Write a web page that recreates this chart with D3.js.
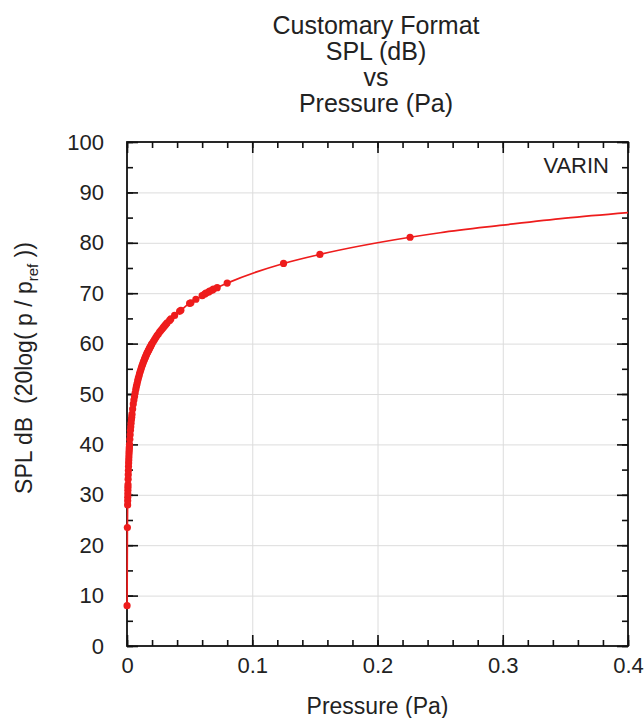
<html>
<head>
<script src="https://d3js.org/d3.v7.min.js"></script>
<style>
body { margin: 0; background: #fff; }
text { font-family: "Liberation Sans", Arial, sans-serif; fill: #222; }
.grid line { stroke: #dcdcdc; stroke-width: 1; }
.grid path { display: none; }
.tk path { display: none; }
.tk line { stroke: #111; stroke-width: 1.6; }
.lbl path, .lbl line { display: none; }
</style>
</head>
<body>
<script>
// measured points: pressure (Pa) and SPL (dB)
var pressure = [0.00005, 0.0003, 0.0005, 0.00055, 0.0006, 0.00065, 0.0007, 0.00075, 0.0008, 0.0009,
  0.001, 0.0011, 0.0012, 0.0013, 0.0014, 0.0015, 0.0016, 0.0017, 0.0018, 0.0019,
  0.002, 0.00225, 0.0025, 0.00275, 0.003, 0.00325, 0.0035, 0.00375, 0.004, 0.0045,
  0.005, 0.0055, 0.006, 0.0065, 0.007, 0.0075, 0.008, 0.0085, 0.009, 0.0095,
  0.010, 0.0105, 0.011, 0.0115, 0.012, 0.0125, 0.013, 0.0135, 0.014, 0.0145,
  0.015, 0.0155, 0.016, 0.0165, 0.017, 0.0175, 0.018, 0.0185, 0.019, 0.0195,
  0.020, 0.021, 0.022, 0.023, 0.024, 0.025, 0.026, 0.027, 0.028, 0.029,
  0.030, 0.031, 0.032, 0.034, 0.035, 0.038, 0.042, 0.043, 0.050, 0.051,
  0.055, 0.060, 0.062, 0.063, 0.065, 0.066, 0.068, 0.069, 0.072, 0.080,
  0.125, 0.154, 0.226];
var spl = [8, 23.5, 28, 28.8, 29.5, 30.2, 30.9, 31.5, 32, 33.1,
  34, 34.8, 35.6, 36.3, 36.9, 37.5, 38.1, 38.6, 39.1, 39.5,
  40, 41, 41.9, 42.8, 43.5, 44.2, 44.9, 45.4, 46, 47,
  48, 48.8, 49.5, 50.2, 50.9, 51.5, 52, 52.6, 53.1, 53.5,
  54, 54.4, 54.8, 55.2, 55.6, 55.9, 56.3, 56.6, 56.9, 57.2,
  57.5, 57.8, 58.1, 58.3, 58.6, 58.8, 59.1, 59.3, 59.5, 59.8,
  60, 60.4, 60.8, 61.2, 61.6, 61.9, 62.3, 62.6, 62.9, 63.2,
  63.5, 63.8, 64.1, 64.6, 64.9, 65.6, 66.4, 66.6, 68, 68.1,
  68.8, 69.5, 69.8, 70, 70.2, 70.4, 70.6, 70.8, 71.1, 72,
  75.9, 77.7, 81.1];

// the red curve keeps going past the last point
var curveP = [0.25, 0.3, 0.35, 0.4];
var curveS = [82, 83.5, 84.9, 86];

var xTicks = [0, 0.1, 0.2, 0.3, 0.4];
var xTickLabels = ["0", "0.1", "0.2", "0.3", "0.4"];
var yTicks = [0, 10, 20, 30, 40, 50, 60, 70, 80, 90, 100];
var yTickLabels = ["0", "10", "20", "30", "40", "50", "60", "70", "80", "90", "100"];
var xMinor = d3.range(0, 0.4001, 0.02);
var yMinor = d3.range(0, 100.1, 5);

var titleLines = ["Customary Format", "SPL (dB)", "vs", "Pressure (Pa)"];

var w = 644, h = 718;
var mLeft = 127, mRight = 628, mTop = 142, mBottom = 646;
var iw = mRight - mLeft, ih = mBottom - mTop;

var svg = d3.select("body").append("svg").attr("width", w).attr("height", h);

var x = d3.scaleLinear().domain([0, 0.4]).range([mLeft, mRight]);
var y = d3.scaleLinear().domain([0, 100]).range([mBottom, mTop]);

// grid
svg.append("g").attr("class", "grid")
  .attr("transform", "translate(0," + mBottom + ")")
  .call(d3.axisBottom(x).tickValues(xTicks.slice(1, -1)).tickSize(-ih).tickFormat(""));
svg.append("g").attr("class", "grid")
  .attr("transform", "translate(" + mLeft + ",0)")
  .call(d3.axisLeft(y).tickValues(yTicks.slice(1, -1)).tickSize(-iw).tickFormat(""));

// inward ticks on all four sides
function ticks(axisFn, scale, vals, len, tr) {
  svg.append("g").attr("class", "tk").attr("transform", tr)
    .call(axisFn(scale).tickValues(vals).tickSizeInner(len).tickSizeOuter(0).tickFormat(""));
}
ticks(d3.axisBottom, x, xMinor, -6, "translate(0," + mBottom + ")");
ticks(d3.axisBottom, x, xTicks, -11, "translate(0," + mBottom + ")");
ticks(d3.axisTop, x, xMinor, -6, "translate(0," + mTop + ")");
ticks(d3.axisTop, x, xTicks, -11, "translate(0," + mTop + ")");
ticks(d3.axisLeft, y, yMinor, -6, "translate(" + mLeft + ",0)");
ticks(d3.axisLeft, y, yTicks, -11, "translate(" + mLeft + ",0)");
ticks(d3.axisRight, y, yMinor, -6, "translate(" + mRight + ",0)");
ticks(d3.axisRight, y, yTicks, -11, "translate(" + mRight + ",0)");

// frame
svg.append("rect")
  .attr("x", mLeft).attr("y", mTop).attr("width", iw).attr("height", ih)
  .attr("fill", "none").attr("stroke", "#111").attr("stroke-width", 1.8);

// tick labels
svg.append("g").attr("class", "lbl")
  .attr("transform", "translate(0," + mBottom + ")")
  .call(d3.axisBottom(x).tickValues(xTicks).tickSize(0).tickPadding(11)
    .tickFormat(function(d, i) { return xTickLabels[i]; }))
  .selectAll("text").style("font-size", "22px").attr("fill", "#333");
svg.append("g").attr("class", "lbl")
  .attr("transform", "translate(" + mLeft + ",0)")
  .call(d3.axisLeft(y).tickValues(yTicks).tickSize(0).tickPadding(23)
    .tickFormat(function(d, i) { return yTickLabels[i]; }))
  .selectAll("text").style("font-size", "22px").attr("fill", "#333");
svg.selectAll(".lbl").attr("font-family", null).attr("font-size", null);

// data
var pts = pressure.map(function(p, i) { return [p, spl[i]]; });
var linePts = pts.concat(curveP.map(function(p, i) { return [p, curveS[i]]; }));

svg.append("path")
  .datum(linePts)
  .attr("fill", "none")
  .attr("stroke", "#ee1c1c")
  .attr("stroke-width", 1.7)
  .attr("d", d3.line().x(function(d) { return x(d[0]); }).y(function(d) { return y(d[1]); })
    .curve(d3.curveMonotoneX));

svg.selectAll("circle.pt")
  .data(pts)
  .enter()
  .append("circle")
  .attr("class", "pt")
  .attr("cx", function(d) { return x(d[0]); })
  .attr("cy", function(d) { return y(d[1]); })
  .attr("r", 3.6)
  .attr("fill", "#ee1c1c");

// title
svg.selectAll("text.title")
  .data(titleLines)
  .enter()
  .append("text")
  .attr("class", "title")
  .attr("x", 376)
  .attr("y", function(d, i) { return 34 + i * 26; })
  .attr("text-anchor", "middle")
  .style("font-size", "25px")
  .text(function(d) { return d; });

// axis titles
svg.append("text")
  .attr("x", (mLeft + mRight) / 2)
  .attr("y", 714)
  .attr("text-anchor", "middle")
  .style("font-size", "23px")
  .text("Pressure (Pa)");

var yt = svg.append("text")
  .attr("transform", "translate(32,368) rotate(-90)")
  .attr("text-anchor", "middle")
  .style("font-size", "23px");
yt.append("tspan").text("SPL dB\u00a0\u00a0(20log(\u00a0p\u00a0/\u00a0p");
yt.append("tspan").attr("dy", 6).style("font-size", "15px").text("ref");
yt.append("tspan").attr("dy", -6).text("\u00a0))");

svg.append("text")
  .attr("x", 609)
  .attr("y", 173)
  .attr("text-anchor", "end")
  .style("font-size", "22px")
  .text("VARIN");
</script>
</body>
</html>
